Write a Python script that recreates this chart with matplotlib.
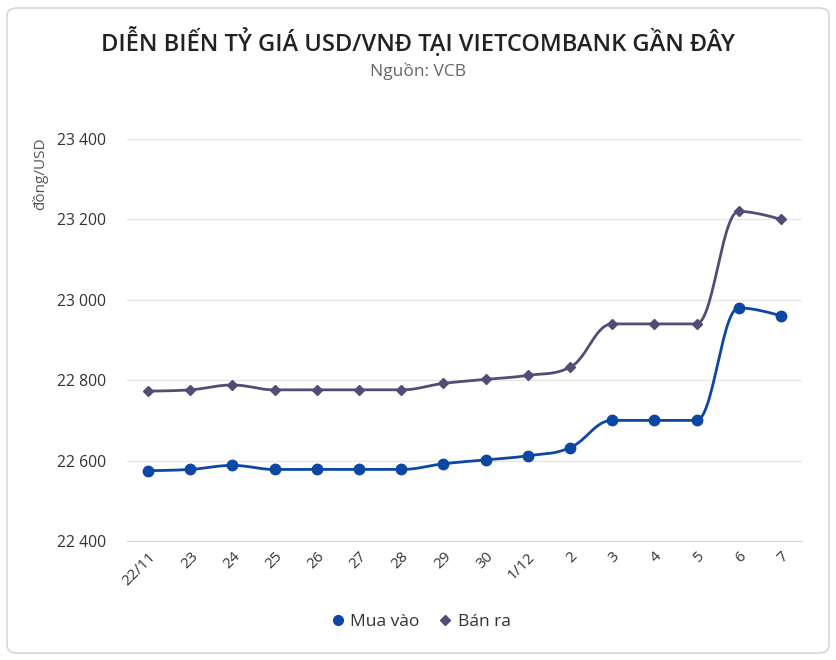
import numpy as np
import matplotlib
matplotlib.use("Agg")
from matplotlib import pyplot as plt
from matplotlib.patches import FancyBboxPatch
from matplotlib.lines import Line2D
from matplotlib.ticker import FuncFormatter

plt.rcParams['font.family'] = ['Open Sans', 'DejaVu Sans']

# data
days = ['22/11', '23', '24', '25', '26', '27', '28', '29', '30',
        '1/12', '2', '3', '4', '5', '6', '7']
mua_vao = [22575, 22578, 22588, 22578, 22578, 22578, 22578, 22592,
           22602, 22612, 22632, 22700, 22700, 22700, 22980, 22960]
ban_ra = [22773, 22776, 22788, 22776, 22776, 22776, 22776, 22792,
          22802, 22812, 22832, 22940, 22940, 22940, 23220, 23200]

BLUE = '#0b47a3'
PURPLE = '#534d75'


def spline(xs, ys, smoothing=1.5, n=30):
    # Highcharts-style spline: cubic bezier through each point
    xs = list(map(float, xs)); ys = list(map(float, ys))
    m = len(xs)
    lc = [(xs[i], ys[i]) for i in range(m)]
    rc = [(xs[i], ys[i]) for i in range(m)]
    d = smoothing + 1
    for i in range(1, m - 1):
        px, py = xs[i], ys[i]
        lx, ly = xs[i - 1], ys[i - 1]
        nx, ny = xs[i + 1], ys[i + 1]
        lcx = (smoothing * px + lx) / d
        lcy = (smoothing * py + ly) / d
        rcx = (smoothing * px + nx) / d
        rcy = (smoothing * py + ny) / d
        corr = (rcy - lcy) * (rcx - px) / (rcx - lcx) + py - rcy
        lcy += corr
        rcy += corr
        if lcy > ly and lcy > py:
            lcy = max(ly, py); rcy = 2 * py - lcy
        elif lcy < ly and lcy < py:
            lcy = min(ly, py); rcy = 2 * py - lcy
        if rcy > ny and rcy > py:
            rcy = max(ny, py); lcy = 2 * py - rcy
        elif rcy < ny and rcy < py:
            rcy = min(ny, py); lcy = 2 * py - rcy
        lc[i] = (lcx, lcy)
        rc[i] = (rcx, rcy)
    t = np.linspace(0, 1, n)[:, None]
    out = []
    for i in range(1, m):
        p0 = np.array([xs[i - 1], ys[i - 1]])
        p1 = np.array(rc[i - 1])
        p2 = np.array(lc[i])
        p3 = np.array([xs[i], ys[i]])
        seg = ((1 - t) ** 3) * p0 + 3 * ((1 - t) ** 2) * t * p1 \
            + 3 * (1 - t) * t ** 2 * p2 + t ** 3 * p3
        out.append(seg if i == 1 else seg[1:])
    pts = np.vstack(out)
    return pts[:, 0], pts[:, 1]


fig = plt.figure(figsize=(8.36, 6.6), dpi=100)
ax = fig.add_axes([127 / 836, 1 - 541 / 660, 675 / 836, 402 / 660])

# rounded frame around the whole chart
fig.patches.append(FancyBboxPatch((7 / 836, 7 / 660), 822 / 836, 645 / 660,
                                  boxstyle='round,pad=0,rounding_size=0.012',
                                  transform=fig.transFigure, fill=False,
                                  edgecolor='#d0d0d0', linewidth=1.0))

x = np.arange(len(days))
for vals, col, mk, ms in [(ban_ra, PURPLE, 'D', 5.0), (mua_vao, BLUE, 'o', 7.5)]:
    sx, sy = spline(x, vals)
    ax.plot(sx, sy, color=col, linewidth=2.0, zorder=3)
    ax.plot(x, vals, linestyle='none', marker=mk, markersize=ms, color=col, zorder=4)

ax.set_xlim(-0.5, len(days) - 0.5)
ax.set_ylim(22400, 23400)
ax.set_yticks(range(22400, 23401, 200))
ax.yaxis.set_major_formatter(FuncFormatter(lambda v, p: f'{int(v):,}'.replace(',', ' ')))
ax.set_xticks(x)
ax.set_xticklabels(days, rotation=45, ha='right', rotation_mode='anchor')
ax.grid(axis='y', color='#e6e6e6', linewidth=1)
ax.set_axisbelow(True)
for s in ['top', 'right', 'left']:
    ax.spines[s].set_visible(False)
ax.spines['bottom'].set_color('#ccd6eb')
ax.spines['bottom'].set_zorder(2)
ax.tick_params(axis='y', length=0, pad=15, labelsize=11.3, labelcolor='#333333')
ax.tick_params(axis='x', length=0, pad=6, labelsize=11, labelcolor='#333333')

fig.text(0.5, 1 - 42 / 660, 'DIỄN BIẾN TỶ GIÁ USD/VNĐ TẠI VIETCOMBANK GẦN ĐÂY',
         ha='center', va='center', fontsize=17, fontweight='semibold', color='#222222')
fig.text(0.5, 1 - 71 / 660, 'Nguồn: VCB', ha='center', va='center',
         fontsize=12.5, color='#666666')
fig.text(40 / 836, 1 - 137 / 660, 'đồng/USD', rotation=90, ha='center', va='top',
         fontsize=11, color='#555555')

handles = [Line2D([], [], color=BLUE, marker='o', linestyle='none', markersize=7),
           Line2D([], [], color=PURPLE, marker='D', linestyle='none', markersize=5)]
fig.legend(handles, ['Mua vào', 'Bán ra'], loc='center', bbox_to_anchor=(0.5, 1 - 622 / 660),
           ncol=2, frameon=False, fontsize=12.5, handletextpad=0.0, columnspacing=0.8,
           handlelength=1.4, labelcolor='#333333')

fig.savefig('out.png', dpi=100)
